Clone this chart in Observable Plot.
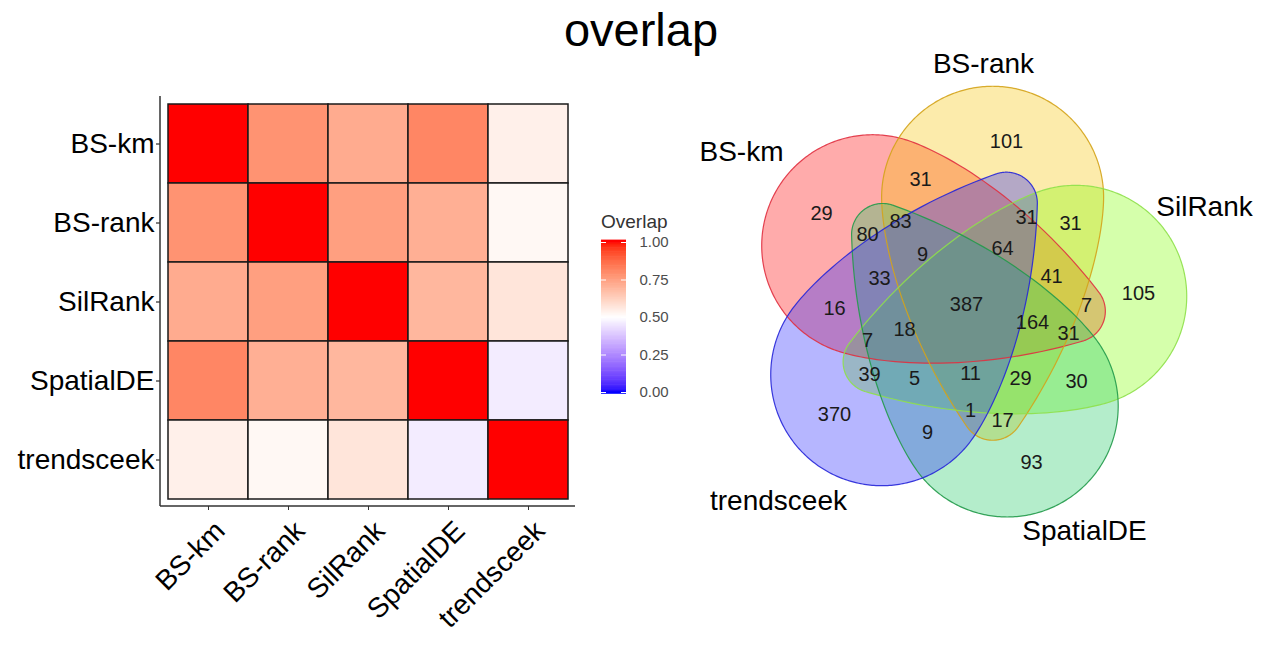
<!DOCTYPE html>
<html>
<head>
<meta charset="utf-8">
<script src="https://cdn.jsdelivr.net/npm/d3@7"></script>
<script src="https://cdn.jsdelivr.net/npm/@observablehq/plot@0.6"></script>
<style>
  html, body { margin: 0; padding: 0; background: #ffffff; }
  #wrap { position: relative; width: 1272px; height: 647px; overflow: hidden; font-family: "Liberation Sans", Arial, Helvetica, sans-serif; }
  #wrap > .abs { position: absolute; }
  #title { left: 0; width: 1282px; top: 6px; text-align: center; font-size: 47px; line-height: 47px; color: #000; }
  #legendTitle { left: 601px; top: 212px; font-size: 19px; line-height: 19px; color: #333; }
</style>
</head>
<body>
<div id="wrap">
  <div id="title" class="abs">overlap</div>
  <div id="legendTitle" class="abs">Overlap</div>
</div>
<script>
// ---------------- data ----------------
const methods = ["BS-km", "BS-rank", "SilRank", "SpatialDE", "trendsceek"];
const overlapBSkm       = [1.00, 0.78, 0.72, 0.81, 0.54];
const overlapBSrank     = [0.78, 1.00, 0.75, 0.71, 0.52];
const overlapSilRank    = [0.72, 0.75, 1.00, 0.69, 0.57];
const overlapSpatialDE  = [0.81, 0.71, 0.69, 1.00, 0.46];
const overlapTrendsceek = [0.54, 0.52, 0.57, 0.46, 1.00];
const legendTicks = [0, 0.25, 0.5, 0.75, 1];

// Venn region counts
const vennCounts = [101, 31, 29, 83, 80, 31, 31, 9, 64, 33, 41, 105, 16, 387, 7, 164, 31, 18, 7, 39, 5, 11, 29, 30, 370, 1, 17, 9, 93];

// ---------------- layout (positions / styles) ----------------
const FONT = '"Liberation Sans", Arial, Helvetica, sans-serif';
const wrap = document.getElementById("wrap");
function place(el, left, top) {
  el.style.position = "absolute";
  el.style.left = left + "px";
  el.style.top = top + "px";
  wrap.appendChild(el);
}
const colorOpts = {
  type: "linear",
  domain: [0, 1],
  clamp: true,
  interpolate: d3.piecewise(d3.interpolateLab, ["#0000ff", "#ffffff", "#ff0000"])
};

// ---------- heatmap ----------
const matrix = [overlapBSkm, overlapBSrank, overlapSilRank, overlapSpatialDE, overlapTrendsceek];
const cells = matrix.flatMap((row, i) => row.map((v, j) => ({row: methods[i], col: methods[j], value: v})));
const H = {w: 600, h: 647, ml: 160, mr: 25, mt: 96, mb: 141};
const heat = Plot.plot({
  width: H.w, height: H.h,
  marginLeft: H.ml, marginRight: H.mr, marginTop: H.mt, marginBottom: H.mb,
  style: {fontFamily: FONT, fontSize: "28px", color: "#000", background: "transparent", overflow: "visible"},
  x: {domain: methods, paddingInner: 0, paddingOuter: 0.09},
  y: {domain: methods, paddingInner: 0, paddingOuter: 0.09},
  color: colorOpts,
  marks: [
    Plot.cell(cells, {x: "col", y: "row", fill: "value", stroke: "#1a1a1a", strokeWidth: 1.5}),
    Plot.axisY({tickSize: 4, tickPadding: 2, fontSize: 28, color: "#000", label: null}),
    Plot.axisX({tickSize: 4, tickFormat: () => "", color: "#333", label: null}),
    Plot.text(methods, {x: d => d, frameAnchor: "bottom", rotate: -45, textAnchor: "end", dx: 18, dy: 26, fontSize: 28, fill: "#000"})
  ]
});
const hs = d3.select(heat);
hs.append("line").attr("x1", H.ml).attr("x2", H.ml).attr("y1", H.mt).attr("y2", H.h - H.mb)
  .attr("stroke", "#333").attr("stroke-width", 1.5);
hs.append("line").attr("x1", H.ml).attr("x2", H.w - H.mr).attr("y1", H.h - H.mb).attr("y2", H.h - H.mb)
  .attr("stroke", "#333").attr("stroke-width", 1.5);
place(heat, 0, 0);

// ---------- colour bar legend ----------
const L = {w: 110, h: 210, ml: 11, mr: 74, mt: 42, mb: 18};
const nSlices = 120;
const slices = d3.range(nSlices).map(i => {
  const lo = -0.012 + i * (1.024 / nSlices);
  return {lo, hi: lo + 1.024 / nSlices + 0.004, mid: Math.max(0, Math.min(1, lo + 0.512 / nSlices))};
});
const legend = Plot.plot({
  width: L.w, height: L.h,
  marginLeft: L.ml, marginRight: L.mr, marginTop: L.mt, marginBottom: L.mb,
  style: {fontFamily: FONT, background: "transparent", overflow: "visible"},
  x: {domain: [0, 1], axis: null},
  y: {domain: [0, 1]},
  color: colorOpts,
  marks: [
    Plot.rect(slices, {x1: 0, x2: 1, y1: "lo", y2: "hi", fill: "mid"}),
    Plot.ruleY(legendTicks, {y: d => d, x1: 0, x2: 0.2, stroke: "#ffffff", strokeWidth: 1}),
    Plot.ruleY(legendTicks, {y: d => d, x1: 0.8, x2: 1, stroke: "#ffffff", strokeWidth: 1}),
    Plot.axisY(legendTicks, {anchor: "right", tickSize: 0, tickPadding: 13, tickFormat: d3.format(".2f"), fontSize: 15, color: "#4d4d4d", label: null})
  ]
});
place(legend, 590, 200);

// ---------- five-set Venn diagram (egg-shaped petals, 5-fold symmetric) ----------
const V = {left: 680, top: 40, w: 592, h: 600};
const vennFill   = ["#ff0000", "#f7c100", "#80ff00", "#1cc860", "#2020ff"];
const vennStroke = ["#e03040", "#d4a31a", "#8ee04a", "#229a4a", "#2626d8"];
const petal = {ox: 965.5, oy: 303.5, dist: 110, angle0: 212, tipTurn: 166, R: 111, r: 31, D: 212, p: 1.5};
const nameX = [741, 983, 1204, 1084, 778];
const nameY = [152, 64, 207, 531, 501];
const countX = [1006, 920, 821, 900, 867, 1026, 1070, 922, 1002, 879, 1051, 1138, 834, 966, 1086, 1032, 1068, 904, 867, 869, 914, 970, 1020, 1076, 834, 970, 1002, 927, 1031];
const countY = [141, 179, 213, 221, 234, 217, 223, 254, 248, 278, 276, 293, 308, 304, 305, 322, 333, 329, 340, 374, 378, 373, 378, 381, 414, 410, 420, 432, 462];

const rad = Math.PI / 180;
const sSamples = d3.range(0, 401).map(i => i / 400);
const rho = s => petal.r + (petal.R - petal.r) * (1 - Math.pow(s, petal.p));
const outlines = methods.map((set, k) => {
  const ca = (petal.angle0 + 72 * k) * rad;
  const cx = petal.ox + petal.dist * Math.cos(ca);
  const cy = petal.oy + petal.dist * Math.sin(ca);
  const phi = ca + petal.tipTurn * rad;
  const e = [Math.cos(phi), Math.sin(phi)], n = [-Math.sin(phi), Math.cos(phi)];
  return d3.range(0, 360).map(i => {
    const th = i * rad;
    let best = -Infinity, sb = 0;
    for (const s of sSamples) {
      const h = s * petal.D * Math.cos(th) + rho(s);
      if (h > best) { best = h; sb = s; }
    }
    const u = sb * petal.D + rho(sb) * Math.cos(th);
    const v = rho(sb) * Math.sin(th);
    return {set, x: cx + u * e[0] + v * n[0], y: cy + u * e[1] + v * n[1]};
  });
});
const countRows = vennCounts.map((c, i) => ({c, x: countX[i], y: countY[i]}));
const nameRows = methods.map((m, i) => ({m, x: nameX[i], y: nameY[i]}));

const venn = Plot.plot({
  width: V.w, height: V.h, margin: 0,
  style: {fontFamily: FONT, background: "transparent", overflow: "visible"},
  x: {domain: [V.left, V.left + V.w], axis: null},
  y: {domain: [V.top, V.top + V.h], reverse: true, axis: null},
  marks: [
    ...outlines.map((pts, k) => Plot.line(pts, {x: "x", y: "y", curve: "linear-closed", fill: vennFill[k], fillOpacity: 0.33, stroke: "none"})),
    ...outlines.map((pts, k) => Plot.line(pts, {x: "x", y: "y", curve: "linear-closed", fill: "none", stroke: vennStroke[k], strokeWidth: 1.2, strokeOpacity: 0.9})),
    Plot.text(countRows, {x: "x", y: "y", text: d => String(d.c), fontSize: 20, fill: "#1a1a1a"}),
    Plot.text(nameRows, {x: "x", y: "y", text: "m", fontSize: 28, fill: "#000"})
  ]
});
place(venn, V.left, V.top);
</script>
</body>
</html>
